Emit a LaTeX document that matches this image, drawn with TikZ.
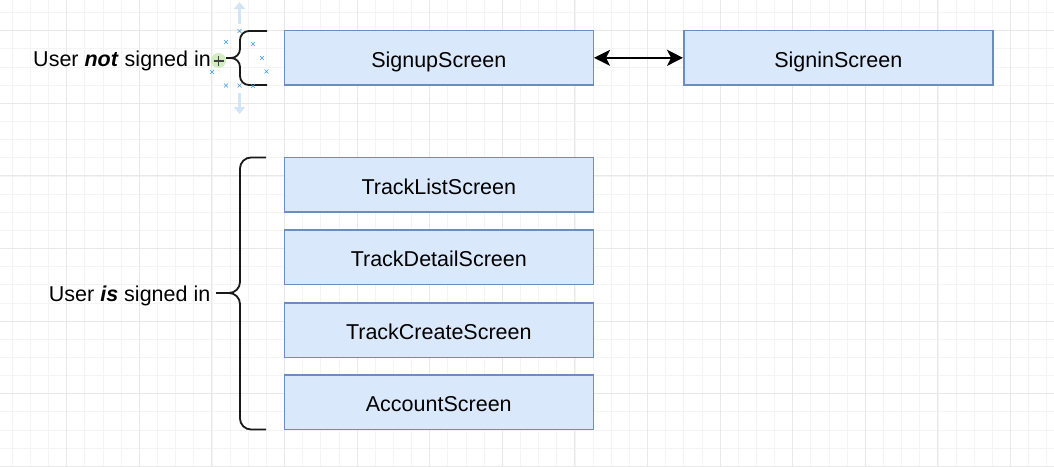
\documentclass[tikz,border=0pt]{standalone}
\usepackage{fontspec}
\setmainfont{Liberation Sans}
\usetikzlibrary{arrows.meta}
\definecolor{boxfill}{HTML}{DAE8FC}
\definecolor{boxline}{HTML}{6C8EBF}
\definecolor{gridminor}{HTML}{F4F4F4}
\definecolor{gridmajor}{HTML}{E8E8E8}
\definecolor{handleblue}{HTML}{D2E5F6}
\definecolor{markblue}{HTML}{3D9BE0}
\definecolor{hoverfill}{HTML}{C9E8B4}
\begin{document}
\begin{tikzpicture}[x=1pt,y=-1pt,
  every node/.style={font=\fontsize{21.5}{26}\selectfont,text height=18.6pt,text depth=0pt},
  screen/.style={draw=boxline,fill=boxfill,line width=1.5pt,minimum width=309pt,minimum height=54.5pt,inner sep=0pt},
  lbl/.style={anchor=east,inner sep=0pt},
  brace/.style={draw=black!90,line width=1.8pt,rounded corners=9pt},
  xmark/.style={draw=markblue,line width=0.6pt}]
\useasboundingbox (0,0) rectangle (1054,466);
% background grid
\begin{scope}
\clip (0,0) rectangle (1054,466);
\fill[white] (0,0) rectangle (1054,466);
\foreach \i in {0,...,57} \draw[gridminor,line width=0.8pt] ({12.25+18.15*\i},0) -- ({12.25+18.15*\i},466);
\foreach \j in {0,...,25} \draw[gridminor,line width=0.8pt] (0,{12.55+18.15*\j}) -- (1054,{12.55+18.15*\j});
\foreach \i in {0,...,14} \draw[gridmajor,line width=1pt] ({66.7+72.6*\i},0) -- ({66.7+72.6*\i},466);
\foreach \j in {0,...,6} \draw[gridmajor,line width=1pt] (0,{30.7+72.6*\j}) -- (1054,{30.7+72.6*\j});
\end{scope}
% screens
\node[screen] (signup) at (438.8,57.8) {SignupScreen};
\node[screen] (signin) at (838.3,57.8) {SigninScreen};
\node[screen] (tracklist) at (438.8,184.7) {TrackListScreen};
\node[screen] (trackdetail) at (438.8,257.3) {TrackDetailScreen};
\node[screen] (trackcreate) at (438.8,330) {TrackCreateScreen};
\node[screen] (account) at (438.8,402.2) {AccountScreen};
\draw[line width=2pt,{Stealth[length=16pt,width=16pt,inset=4pt]}-{Stealth[length=16pt,width=16pt,inset=4pt]}] (signup) -- (signin);
% braces + labels
\coordinate (ntop) at (267,31);
\coordinate (nbot) at (267,85);
\coordinate (ntip) at (226,58);
\draw[brace] (ntop) -| (240,58) -- (ntip);
\draw[brace] (nbot) -| (240,58) -- (ntip);
\node[lbl] (notlbl) at (211,57.5) {User \textbf{\textit{not}} signed in};
\coordinate (itop) at (266,157.5);
\coordinate (ibot) at (266,429.5);
\coordinate (itip) at (216,293);
\draw[brace,rounded corners=11pt] (itop) -| (240,293) -- (itip);
\draw[brace,rounded corners=11pt] (ibot) -| (240,293) -- (itip);
\node[lbl] (islbl) at (210.5,292.5) {User \textbf{\textit{is}} signed in};
% selection handles
\draw[handleblue,line width=3.5pt,-{Triangle[length=7pt,width=11pt]}] (239.5,24) -- (239.5,2);
\draw[handleblue,line width=3.5pt,-{Triangle[length=7pt,width=11pt]}] (239.5,93) -- (239.5,114);
\fill[hoverfill,opacity=0.8] (218.5,60.5) circle (7.5);
\draw[black!75,line width=1.1pt] (213.5,61) -- (223.5,61) (218.5,56) -- (218.5,66);
\foreach \p in {(226,42),(239.5,31),(253,44),(262,58),(266.5,71.5),(212,72),(226,85.5),(239.5,85.5),(253,86)}
  \draw[xmark] \p ++(-2,-2) -- ++(4,4) \p ++(-2,2) -- ++(4,-4);
\end{tikzpicture}
\end{document}
